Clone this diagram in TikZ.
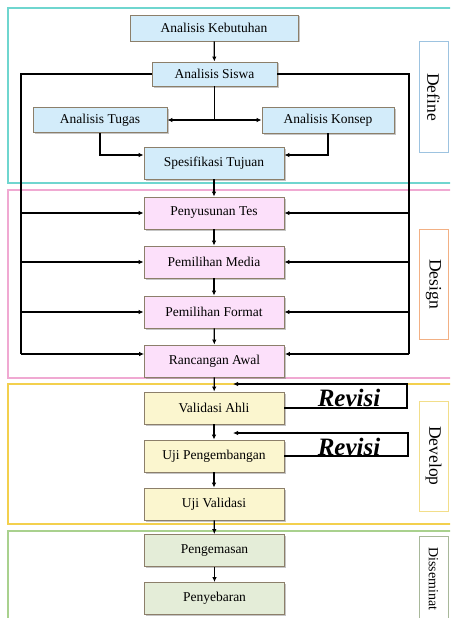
\documentclass[tikz,border=0pt]{standalone}
\usepackage{fontspec}
\setmainfont{Liberation Serif}
\usetikzlibrary{arrows.meta,shadows,calc}
\definecolor{bfill}{HTML}{D3ECFA}
\definecolor{pfill}{HTML}{FCE0FA}
\definecolor{yfill}{HTML}{FBF6CF}
\definecolor{gfill}{HTML}{E4EDD8}
\definecolor{bord}{HTML}{8C7F6A}
\definecolor{fcyan}{HTML}{6FD6CF}
\definecolor{fpink}{HTML}{F0A9D2}
\definecolor{fyellow}{HTML}{F3D04E}
\definecolor{fgreen}{HTML}{A9D18E}
\definecolor{lblue}{HTML}{9DC3E0}
\definecolor{lorange}{HTML}{F2B084}
\definecolor{lyellow}{HTML}{F2DE8A}
\definecolor{lgreen}{HTML}{A8B89A}
\tikzset{
  box/.style={draw=bord, line width=0.8pt, minimum width=140pt, minimum height=32pt,
    inner sep=1pt, font=\fontsize{13.5}{15}\selectfont,
    drop shadow={shadow xshift=1.5pt, shadow yshift=-1.5pt, fill=black!45, opacity=.5}},
  bbox/.style={box, fill=bfill},
  pbox/.style={box, fill=pfill},
  ybox/.style={box, fill=yfill},
  gbox/.style={box, fill=gfill},
  arr/.style={line width=1.2pt, -{Latex[length=5pt,width=4.5pt]}},
  ln/.style={line width=1.2pt},
  frame/.style={line width=1.6pt},
  side/.style={draw, line width=1pt, fill=white, rotate=-90, minimum height=29pt,
    inner sep=1pt, font=\fontsize{17.5}{19}\selectfont},
  revisi/.style={anchor=base, inner sep=0pt, font=\fontsize{25}{27}\selectfont\bfseries\itshape}
}
\begin{document}
\begin{tikzpicture}[x=1pt,y=-1pt]
\useasboundingbox (0,0) rectangle (450,618);
\clip (0,0) rectangle (450,618);
\fill[white] (0,0) rectangle (450,618);
% frames
\draw[frame, fcyan] (8,8) rectangle (470,183);
\draw[frame, fpink] (8,190) rectangle (470,378);
\draw[frame, fyellow] (8,384) rectangle (470,524);
\draw[frame, fgreen] (8,531) rectangle (470,640);
% side labels
\node[side, draw=lblue, minimum width=110pt] (sdef) at (433.5,97) {Define};
\node[side, draw=lorange, minimum width=110pt] (sdes) at (433.5,284) {Design};
\node[side, draw=lyellow, minimum width=110pt] (sdev) at (433.5,456) {Develop};
\draw[line width=1pt, draw=lgreen, fill=white] (419,536) rectangle (448,640);
\node[rotate=-90, anchor=west, inner sep=0pt, font=\fontsize{14}{16}\selectfont] (sdis) at (433.5,547) {Disseminat};
% nodes
\node[bbox, minimum width=168pt, minimum height=26pt] (ak) at (214,28) {Analisis Kebutuhan};
\node[bbox, minimum width=125pt, minimum height=24pt] (as) at (214.5,74) {Analisis Siswa};
\node[bbox, minimum width=134pt, minimum height=25pt] (at) at (100,120) {Analisis Tugas};
\node[bbox, minimum width=132pt, minimum height=26pt] (ac) at (328,120) {Analisis Konsep};
\node[bbox] (st) at (214,163) {Spesifikasi Tujuan};
\node[pbox] (pt) at (214,213) {Penyusunan Tes};
\node[pbox] (pm) at (214,262) {Pemilihan Media};
\node[pbox] (pf) at (214,312) {Pemilihan Format};
\node[pbox] (ra) at (214.5,361) {Rancangan Awal};
\node[ybox] (va) at (214,408) {Validasi Ahli};
\node[ybox] (up) at (214,456) {Uji Pengembangan};
\node[ybox] (uv) at (214,504) {Uji Validasi};
\node[gbox] (pg) at (214.5,550.5) {Pengemasan};
\node[gbox] (pb) at (214.5,598.5) {Penyebaran};
% helper coordinates
\coordinate (lb) at (21,0);
\coordinate (rb) at (409,0);
\coordinate (jy) at (0,120);
\coordinate (ty) at (0,155);
\coordinate (raarr) at (0,354);
\coordinate (r1) at (233,384);
\coordinate (r2) at (233,433);
\coordinate (rx1) at (407,0);
\coordinate (rx2) at (408,0);
% Define connectors
\draw[arr] (ak) -- (as);
\draw[ln] (as.south) -- (as.south |- jy) coordinate (j);
\draw[arr] (j) -- (at.east |- j);
\draw[arr] (j) -- (ac.west |- j);
\draw[arr] (at.south) |- (st.west |- ty);
\draw[arr] (ac.south) |- (st.east |- ty);
\draw[arr] (st) -- (pt);
% buses
\draw[ln] (as.west) -| (lb |- raarr);
\draw[ln] (as.east) -| (rb |- raarr);
\draw[arr] (lb |- pt.west) -- (pt.west);
\draw[arr] (lb |- pm.west) -- (pm.west);
\draw[arr] (lb |- pf.west) -- (pf.west);
\draw[arr] (lb |- raarr) -- (ra.west |- raarr);
\draw[arr] (rb |- pt.east) -- (pt.east);
\draw[arr] (rb |- pm.east) -- (pm.east);
\draw[arr] (rb |- pf.east) -- (pf.east);
\draw[arr] (rb |- raarr) -- (ra.east |- raarr);
% Design vertical
\draw[arr] (pt) -- (pm);
\draw[arr] (pm) -- (pf);
\draw[arr] (pf) -- (ra);
\draw[arr] (ra) -- (va);
% Develop
\draw[arr] (va) -- (up);
\draw[arr] (up) -- (uv);
\draw[arr] (uv) -- (pg);
\draw[arr] (pg) -- (pb);
% Revisi loops
\draw[arr] (va.east) -| (rx1 |- r1) -- (r1);
\draw[arr] (up.east) -| (rx2 |- r2) -- (r2);
\node[revisi] (rv1) at (349,406) {Revisi};
\node[revisi] (rv2) at (349,455) {Revisi};
\end{tikzpicture}
\end{document}
